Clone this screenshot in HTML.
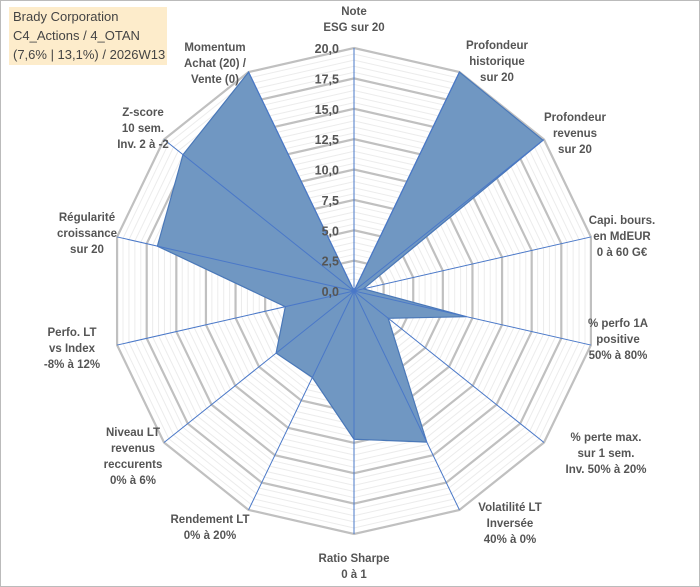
<!DOCTYPE html>
<html><head><meta charset="utf-8"><style>
body{margin:0;background:#fff;font-family:"Liberation Sans",sans-serif}
#wrap{position:relative;width:700px;height:587px;overflow:hidden}
.lbl{position:absolute;font-weight:bold;font-size:11.5px;color:#555;text-align:center;line-height:16px;white-space:nowrap;transform:translateX(-50%)}
#title{position:absolute;left:9px;top:7px;width:158px;height:58px;background:#fdeccb;font-size:13px;line-height:19px;color:#444;padding-left:4px;box-sizing:border-box}
</style></head><body>
<div id="wrap">
<svg id="svg" width="700" height="587" style="position:absolute;left:0;top:0">
<rect x="0.5" y="0.5" width="699" height="586" fill="#fff" stroke="#bbb"/>
</svg>
<div id="title">Brady Corporation<br>C4_Actions / 4_OTAN<br>(7,6% | 13,1%) / 2026W13</div>
</div>
<script>
const categories=["Note\nESG sur 20","Profondeur\nhistorique\nsur 20","Profondeur\nrevenus\nsur 20","Capi. bours.\nen MdEUR\n0 à 60 G€","% perfo 1A\npositive\n50% à 80%","% perte max.\nsur 1 sem.\nInv. 50% à 20%","Volatilité LT\nInversée\n40% à 0%","Ratio Sharpe\n0 à 1","Rendement LT\n0% à 20%","Niveau LT\nrevenus\nreccurents\n0% à 6%","Perfo. LT\nvs Index\n-8% à 12%","Régularité\ncroissance\nsur 20","Z-score\n10 sem.\nInv. 2 à -2","Momentum\nAchat (20) /\nVente (0)"];
const values=[0,20,19.9,0.8,9.5,3.6,13.8,12.2,7.9,8.2,5.8,16.6,18,20];
const tickLabels=["0,0","2,5","5,0","7,5","10,0","12,5","15,0","17,5","20,0"];
const labelPos=[[354,4],[497,38],[575,110],[622,213],[618,316],[606,430],[510,500],[354,551],[210,512],[133,425],[72,325],[87,210],[143,105],[215,40]];
const cx=354,cy=291,R=243,maxV=20,N=categories.length;
const ns="http://www.w3.org/2000/svg";
const svg=document.getElementById('svg');
function pt(i,v){const a=i*2*Math.PI/N;const r=v/maxV*R;return[cx+r*Math.sin(a),cy-r*Math.cos(a)];}
function mk(t,at){const e=document.createElementNS(ns,t);for(const k in at)e.setAttribute(k,at[k]);svg.appendChild(e);return e;}
for(let k=1;k<=40;k++){const v=k*0.5;const major=(k%5===0);
 const p=[];for(let i=0;i<N;i++)p.push(pt(i,v).join(','));
 const g=mk('polygon',{points:p.join(' '),fill:'none',stroke:major?'#c0c0c0':'#ececec','stroke-width':major?2.2:1});
 
 }
const dp=values.map((v,i)=>pt(i,v).join(','));
const poly=mk('polygon',{points:dp.join(' '),fill:'#7097c2',stroke:'#4a78b8','stroke-width':1.2});


for(let i=0;i<N;i++){const e=pt(i,maxV);
 const l=mk('line',{x1:cx,y1:cy,x2:e[0],y2:e[1],stroke:'#4a78c8','stroke-width':1});
 
 }
tickLabels.forEach((t,k)=>{const v=k*2.5;const y=cy-v/maxV*R;
 const tx=mk('text',{x:cx-15,y:y+5,'text-anchor':'end','font-size':'12.5','font-weight':'bold',fill:'#555','font-family':'Liberation Sans, sans-serif'});
 tx.textContent=t;
 
 });
const wrap=document.getElementById('wrap');
categories.forEach((c,i)=>{const d=document.createElement('div');d.className='lbl';
 d.style.left=labelPos[i][0]+'px';d.style.top=labelPos[i][1]+'px';
 d.innerHTML=c.split('\n').join('<br>');
 
 
 wrap.appendChild(d);});
</script>
</body></html>
